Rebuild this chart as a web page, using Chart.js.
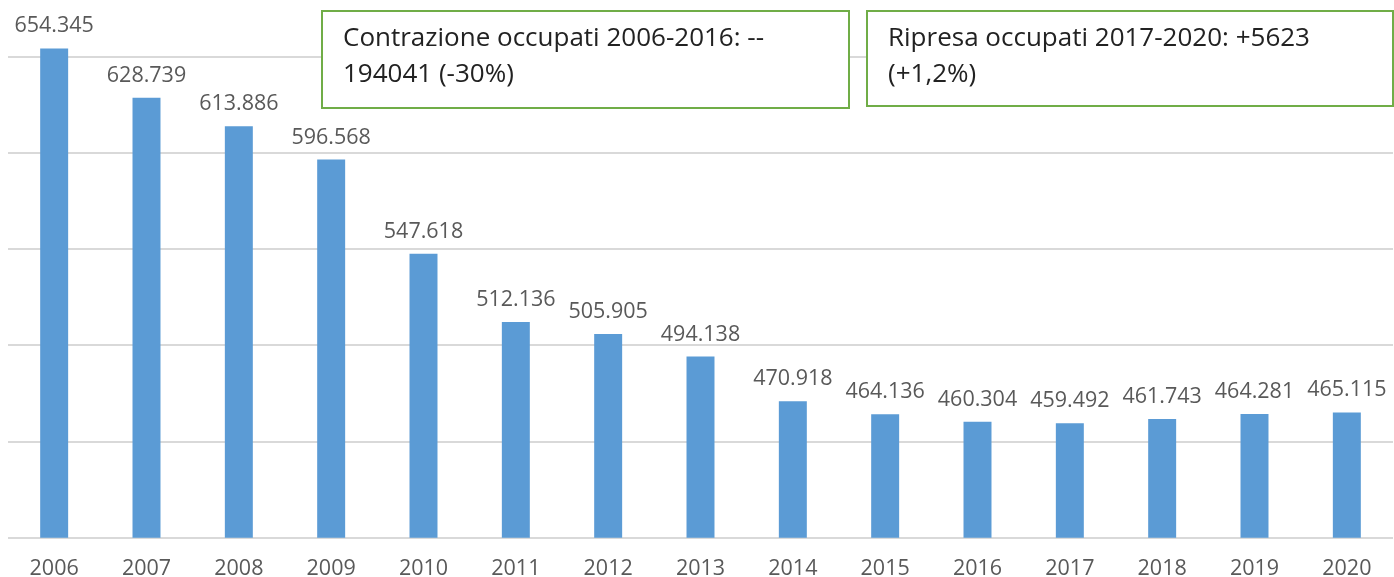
<!DOCTYPE html>
<html>
<head>
<meta charset="utf-8">
<script src="https://cdn.jsdelivr.net/npm/chart.js@4"></script>
<style>
  html, body { margin: 0; padding: 0; background: #fff; }
  #wrap { width: 1394px; height: 577px; }
</style>
</head>
<body>
<div id="wrap"><canvas id="occupatiChart" width="1394" height="577"></canvas></div>
<script>
const years = ['2006', '2007', '2008', '2009', '2010', '2011', '2012', '2013', '2014', '2015', '2016', '2017', '2018', '2019', '2020'];
const occupati = [654345, 628739, 613886, 596568, 547618, 512136, 505905, 494138, 470918, 464136, 460304, 459492, 461743, 464281, 465115];
const gridValues = [400000, 450000, 500000, 550000, 600000, 650000];
const noteContrazione = ['Contrazione occupati 2006-2016: --', '194041 (-30%)'];
const noteRipresa = ['Ripresa occupati 2017-2020: +5623', '(+1,2%)'];

const FONT = '"Open Sans", "DejaVu Sans", sans-serif';

function itNumber(v) {
  const th = Math.floor(v / 1000);
  const rest = String(v % 1000).padStart(3, '0');
  return th + '.' + rest;
}

// value labels above each bar
const barLabels = {
  id: 'barLabels',
  afterDatasetsDraw(chart) {
    const ctx = chart.ctx;
    const meta = chart.getDatasetMeta(0);
    ctx.save();
    ctx.font = '21.5px ' + FONT;
    ctx.fillStyle = '#595959';
    ctx.textAlign = 'center';
    ctx.textBaseline = 'alphabetic';
    meta.data.forEach((bar, i) => {
      ctx.fillText(itNumber(occupati[i]), bar.x, bar.y - 16);
    });
    ctx.restore();
  }
};

// the two green note boxes
const noteBoxes = {
  id: 'noteBoxes',
  afterDraw(chart) {
    const ctx = chart.ctx;
    const boxes = [
      { x: 322, y: 11, w: 527, h: 97, lines: noteContrazione },
      { x: 867, y: 11, w: 526, h: 95, lines: noteRipresa }
    ];
    ctx.save();
    boxes.forEach(b => {
      ctx.fillStyle = '#fff';
      ctx.fillRect(b.x, b.y, b.w, b.h);
      ctx.strokeStyle = '#70AD47';
      ctx.lineWidth = 2;
      ctx.strokeRect(b.x, b.y, b.w, b.h);
      ctx.fillStyle = '#222';
      ctx.font = '26px ' + FONT;
      ctx.textAlign = 'left';
      ctx.textBaseline = 'alphabetic';
      b.lines.forEach((t, k) => {
        ctx.fillText(t, b.x + 21, b.y + 35 + k * 36);
      });
    });
    ctx.restore();
  }
};

new Chart(document.getElementById('occupatiChart').getContext('2d'), {
  type: 'bar',
  data: {
    labels: years,
    datasets: [{
      label: 'Occupati',
      data: occupati,
      backgroundColor: '#5B9BD5',
      borderWidth: 0,
      barPercentage: 0.303,
      categoryPercentage: 1
    }]
  },
  options: {
    responsive: false,
    animation: false,
    layout: { padding: { left: 8, right: 1, top: 0, bottom: 0 } },
    plugins: {
      legend: { display: false },
      tooltip: { enabled: false }
    },
    scales: {
      x: {
        grid: { display: false, drawTicks: false },
        border: { display: false },
        ticks: {
          color: '#595959',
          font: { family: FONT, size: 21.5 },
          padding: 18,
          maxRotation: 0,
          autoSkip: false
        },
        afterFit(scale) { scale.height = 39.3; }
      },
      y: {
        min: 400000,
        max: 679500,
        grid: { color: '#D9D9D9', lineWidth: 2, drawTicks: false },
        border: { display: false },
        ticks: { display: false },
        afterBuildTicks(scale) {
          scale.ticks = gridValues.map(v => ({ value: v }));
        },
        afterFit(scale) { scale.width = 0; }
      }
    }
  },
  plugins: [barLabels, noteBoxes]
});
</script>
</body>
</html>
